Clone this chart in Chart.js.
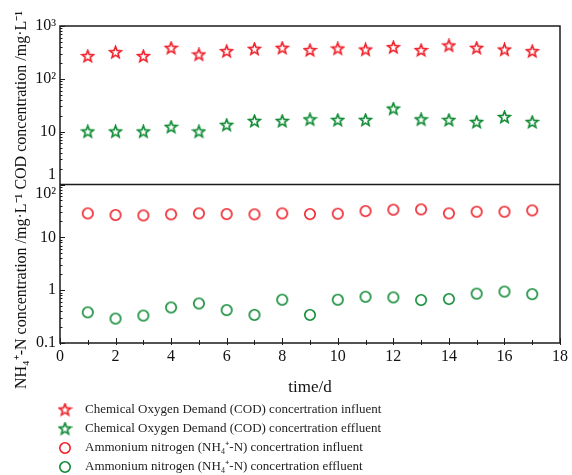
<!DOCTYPE html>
<html>
<head>
<meta charset="utf-8">
<title>COD and ammonium nitrogen over time</title>
<script src="https://cdn.jsdelivr.net/npm/chart.js@4.4.1/dist/chart.umd.min.js"></script>
<style>
  body { margin: 0; background: #fff; }
  canvas { display: block; }
</style>
</head>
<body>
<canvas id="chart" width="572" height="475"></canvas>
<script>
// daily samples (mg/L)
const days = [1, 2, 3, 4, 5, 6, 7, 8, 9, 10, 11, 12, 13, 14, 15, 16, 17];
const codInfluent = [264, 314, 264, 379, 284, 328, 363, 379, 343, 368, 352, 390, 343, 420, 379, 352, 328];
const codEffluent = [9.9, 9.9, 9.9, 12.1, 9.9, 13.2, 15.7, 15.7, 16.8, 16.4, 16.4, 26.8, 16.8, 16.4, 15.0, 18.6, 15.0];
const nh4Influent = [28.4, 26.4, 26.0, 27.2, 28.4, 27.5, 27.2, 28.4, 27.5, 28.0, 31.4, 33.3, 33.8, 28.4, 30.5, 30.5, 32.3];
const nh4Effluent = [0.38, 0.29, 0.33, 0.47, 0.56, 0.42, 0.34, 0.66, 0.34, 0.66, 0.75, 0.73, 0.65, 0.68, 0.86, 0.94, 0.84];

const codTicks = [1, 10, 100, 1000];
const codLabels = [['1', ''], '10', '10²', '10³'];
const nh4Ticks = [0.1, 1, 10, 100];
const nh4Labels = ['0.1', '1', '10', ['', '10²']];

const yTitle = 'NH₄⁺-N concentration /mg·L⁻¹ COD concentration /mg·L⁻¹';

const RED = '#f01e28';
const GREEN = '#0c8a32';
const SERIF = '"Liberation Serif", "Times New Roman", serif';

// hollow marker sprites, used for the points and the legend
function starImage(color) {
  const c = document.createElement('canvas');
  c.width = 15; c.height = 15;
  const g = c.getContext('2d');
  g.translate(7.5, 7.5);
  g.beginPath();
  for (let i = 0; i < 10; i++) {
    const r = i % 2 ? 2.6 : 6.1;
    const a = -Math.PI / 2 + i * Math.PI / 5;
    g.lineTo(r * Math.cos(a), r * Math.sin(a));
  }
  g.closePath();
  g.strokeStyle = color;
  g.lineWidth = 1.6;
  g.stroke();
  return c;
}

function ringImage(color) {
  const c = document.createElement('canvas');
  c.width = 14; c.height = 14;
  const g = c.getContext('2d');
  g.beginPath();
  g.arc(7, 7, 5.2, 0, Math.PI * 2);
  g.strokeStyle = color;
  g.lineWidth = 1.6;
  g.stroke();
  return c;
}

const points = vals => days.map((d, i) => ({ x: d, y: vals[i] }));

function series(label, vals, axis, color, marker) {
  return {
    label,
    data: points(vals),
    yAxisID: axis,
    pointStyle: marker,
    pointRadius: 6,
    borderColor: color,
    backgroundColor: 'transparent',
    borderWidth: 1.4
  };
}

// box, inward ticks and the shared rotated y title
const frame = {
  id: 'frame',
  afterLayout(chart) {
    chart.legend.left -= 14.5;
    chart.legend.right -= 14.5;
  },
  afterDraw(chart) {
    const { ctx, chartArea: a, scales } = chart;
    const top = scales.yCod, bot = scales.yNh, x = scales.x;
    ctx.save();
    ctx.strokeStyle = '#1b1b1b';
    ctx.lineWidth = 1.5;
    ctx.strokeRect(a.left, a.top, a.right - a.left, a.bottom - a.top);
    ctx.beginPath();
    ctx.moveTo(a.left, top.bottom);
    ctx.lineTo(a.right, top.bottom);
    ctx.stroke();

    ctx.lineWidth = 1;
    ctx.beginPath();
    [top, bot].forEach(s => {
      const e0 = Math.round(Math.log10(s.min));
      const e1 = Math.round(Math.log10(s.max));
      for (let e = e0; e <= e1; e++) {
        for (let k = 1; k < 10; k++) {
          const v = k * Math.pow(10, e);
          if (v > s.max * 1.001) break;
          const py = Math.round(s.getPixelForValue(v)) + 0.5;
          const len = k === 1 ? 5 : 2.5;
          ctx.moveTo(a.left, py);
          ctx.lineTo(a.left + len, py);
        }
      }
    });
    for (let d = x.min; d <= x.max; d++) {
      const px = Math.round(x.getPixelForValue(d)) + 0.5;
      const len = d % 2 ? 3 : 5;
      ctx.moveTo(px, a.bottom + 2);
      ctx.lineTo(px, a.bottom - len);
    }
    ctx.stroke();

    ctx.translate(26, 200);
    ctx.rotate(-Math.PI / 2);
    ctx.font = '16px ' + SERIF;
    ctx.fillStyle = '#111';
    ctx.textAlign = 'center';
    ctx.textBaseline = 'alphabetic';
    ctx.fillText(yTitle, 0, 0);
    ctx.restore();
  }
};

const tickFont = { family: SERIF, size: 16 };

new Chart(document.getElementById('chart'), {
  type: 'scatter',
  data: {
    datasets: [
      series('Chemical Oxygen Demand (COD) concertration influent', codInfluent, 'yCod', RED, starImage(RED)),
      series('Chemical Oxygen Demand (COD) concertration effluent', codEffluent, 'yCod', GREEN, starImage(GREEN)),
      series('Ammonium nitrogen (NH₄⁺-N) concertration influent', nh4Influent, 'yNh', RED, ringImage(RED)),
      series('Ammonium nitrogen (NH₄⁺-N) concertration effluent', nh4Effluent, 'yNh', GREEN, ringImage(GREEN))
    ]
  },
  options: {
    responsive: false,
    animation: false,
    layout: { padding: { left: 0, right: 10, top: 26, bottom: -8.5 } },
    plugins: {
      legend: {
        position: 'bottom',
        align: 'start',
        fullSize: false,
        labels: {
          usePointStyle: true,
          pointStyleWidth: 27,
          padding: 6,
          color: '#222',
          font: { family: SERIF, size: 13 }
        }
      },
      tooltip: { enabled: false }
    },
    scales: {
      x: {
        type: 'linear',
        min: 0,
        max: 18,
        ticks: { stepSize: 2, padding: 4, color: '#111', font: tickFont },
        grid: { display: false, drawTicks: false },
        border: { display: false },
        title: { display: true, text: 'time/d', color: '#111', font: { family: SERIF, size: 17 }, padding: { top: 4, bottom: 0 } },
        afterFit: s => { s.height = 54.5; }
      },
      yCod: {
        type: 'logarithmic',
        position: 'left',
        stack: 'conc',
        stackWeight: 1,
        weight: 1,
        min: 1,
        max: 1000,
        afterBuildTicks: s => { s.ticks = codTicks.map(v => ({ value: v })); },
        ticks: {
          autoSkip: false,
          padding: 4,
          color: '#111',
          font: tickFont,
          callback: v => codLabels[codTicks.indexOf(v)]
        },
        grid: { display: false, drawTicks: false },
        border: { display: false },
        afterFit: s => { s.width = 60; }
      },
      yNh: {
        type: 'logarithmic',
        position: 'left',
        stack: 'conc',
        stackWeight: 1,
        weight: 0,
        min: 0.1,
        max: 100,
        afterBuildTicks: s => { s.ticks = nh4Ticks.map(v => ({ value: v })); },
        ticks: {
          autoSkip: false,
          padding: 4,
          color: '#111',
          font: tickFont,
          callback: v => nh4Labels[nh4Ticks.indexOf(v)]
        },
        grid: { display: false, drawTicks: false },
        border: { display: false },
        afterFit: s => { s.width = 60; }
      }
    }
  },
  plugins: [frame]
});
</script>
</body>
</html>
